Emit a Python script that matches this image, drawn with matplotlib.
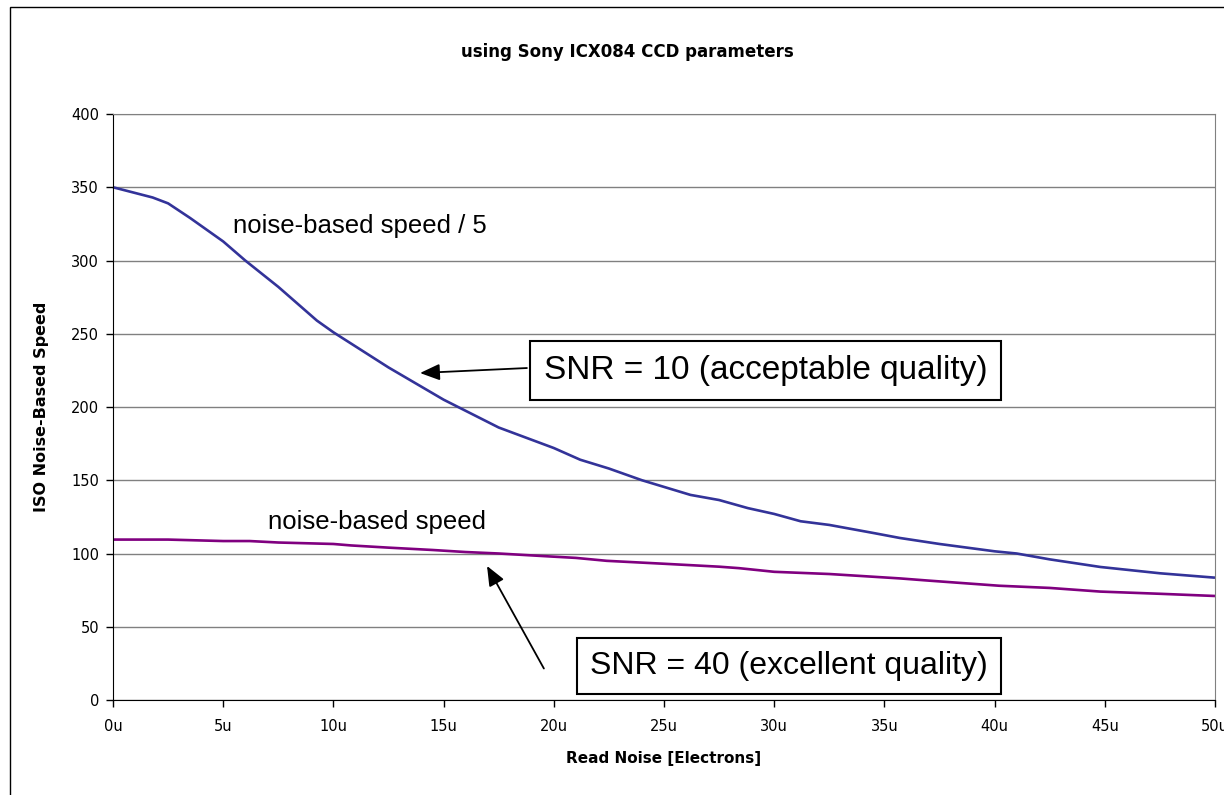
import matplotlib.pyplot as plt
from matplotlib.patches import Rectangle

# Werte
noise_x_div5 = [0, 1.8, 2.5, 3.5, 5, 6, 7.5, 9.25, 10, 12.5, 15, 17.5, 20, 21.2, 22.5, 24,
                26.2, 27.5, 28.8, 30, 31.2, 32.5, 34.5, 35.7, 37.5, 40, 41, 42.5, 44.8, 47.5, 50]
speed_div5 = [350, 343, 339, 329, 313, 300, 282, 259, 251, 227, 205, 186, 172, 164, 158, 150,
              140, 136.5, 131, 127, 122, 119.5, 114, 110.6, 106.5, 101.5, 100, 96, 90.8, 86.5, 83.5]

noise_x = [0, 2.5, 5, 6.2, 7.5, 10, 10.8, 12.5, 14.5, 16, 17.5, 19.8, 21, 22.4, 25, 27.5,
           28.4, 30, 32.5, 35.7, 37, 40.2, 42.5, 44.8, 47.5, 50]
speed = [109.5, 109.5, 108.5, 108.5, 107.5, 106.5, 105.5, 104, 102.4, 101, 100, 98, 97, 95,
         93, 91, 90, 87.5, 86, 83, 81.5, 78, 76.5, 74, 72.5, 71]

x_ticks = [0, 5, 10, 15, 20, 25, 30, 35, 40, 45, 50]
x_labels = ['0u', '5u', '10u', '15u', '20u', '25u', '30u', '35u', '40u', '45u', '50u']
y_ticks = [0, 50, 100, 150, 200, 250, 300, 350, 400]

plt.rcParams['font.family'] = ['Liberation Sans', 'DejaVu Sans']

fig = plt.figure(figsize=(12.24, 7.95), dpi=100)
ax = fig.add_axes([113 / 1224, 1 - 700 / 795, (1215 - 113) / 1224, (700 - 114) / 795])

# Rahmen um das ganze Diagramm
fig.patches.append(Rectangle((10 / 1224, -0.05), 1.1, 1 - 7 / 795 + 0.05, transform=fig.transFigure,
                             fill=False, edgecolor='black', linewidth=1))

ax.plot(noise_x_div5, speed_div5, color='#333399', linewidth=1.9, solid_capstyle='butt', clip_on=False)
ax.plot(noise_x, speed, color='#800080', linewidth=1.9, solid_capstyle='butt', clip_on=False)

ax.set_xlim(0, 50)
ax.set_ylim(0, 400)
ax.set_xticks(x_ticks)
ax.set_xticklabels(x_labels)
ax.set_yticks(y_ticks)
ax.tick_params(axis='both', direction='out', length=5, width=1, color='black', labelsize=10.5)
ax.tick_params(axis='x', pad=9)
ax.tick_params(axis='y', pad=5)
for lbl in ax.get_xticklabels() + ax.get_yticklabels():
    lbl.set_family('DejaVu Sans')
ax.grid(axis='y', color='#808080', linewidth=1)
ax.set_axisbelow(True)

for side in ['top', 'right']:
    ax.spines[side].set_color('#808080')
for side in ['left', 'bottom']:
    ax.spines[side].set_color('black')

ax.set_xlabel('Read Noise [Electrons]', fontsize=11, fontweight='bold', labelpad=12,
              family='DejaVu Sans')
ax.set_ylabel('ISO Noise-Based Speed', fontsize=11.5, fontweight='bold', labelpad=16,
              family='DejaVu Sans')
fig.text(627 / 1224, 1 - 52 / 795, 'using Sony ICX084 CCD parameters', ha='center', va='center',
         fontsize=12, fontweight='bold', family='DejaVu Sans')

# Beschriftungen
ax.text(5.45, 323.5, 'noise-based speed / 5', fontsize=18.5, va='center', ha='left')
ax.text(7.03, 121.5, 'noise-based speed', fontsize=18.5, va='center', ha='left')

box = dict(boxstyle='square,pad=0.42', facecolor='white', edgecolor='black', linewidth=1.5)
ax.text(29.6, 224.6, 'SNR = 10 (acceptable quality)', fontsize=24, ha='center', va='center',
        bbox=box)
ax.text(30.67, 23.2, 'SNR = 40 (excellent quality)', fontsize=23, ha='center', va='center',
        bbox=box, zorder=5)

arrow = dict(arrowstyle='-|>,head_length=1.2,head_width=0.5', color='black', linewidth=1.3,
             shrinkA=0, shrinkB=0)
ax.annotate('', xy=(13.93, 223.2), xytext=(18.78, 226.6), arrowprops=arrow)
ax.annotate('', xy=(16.97, 91.5), xytext=(19.55, 21.5), arrowprops=arrow)

fig.savefig('out.png', dpi=100)
